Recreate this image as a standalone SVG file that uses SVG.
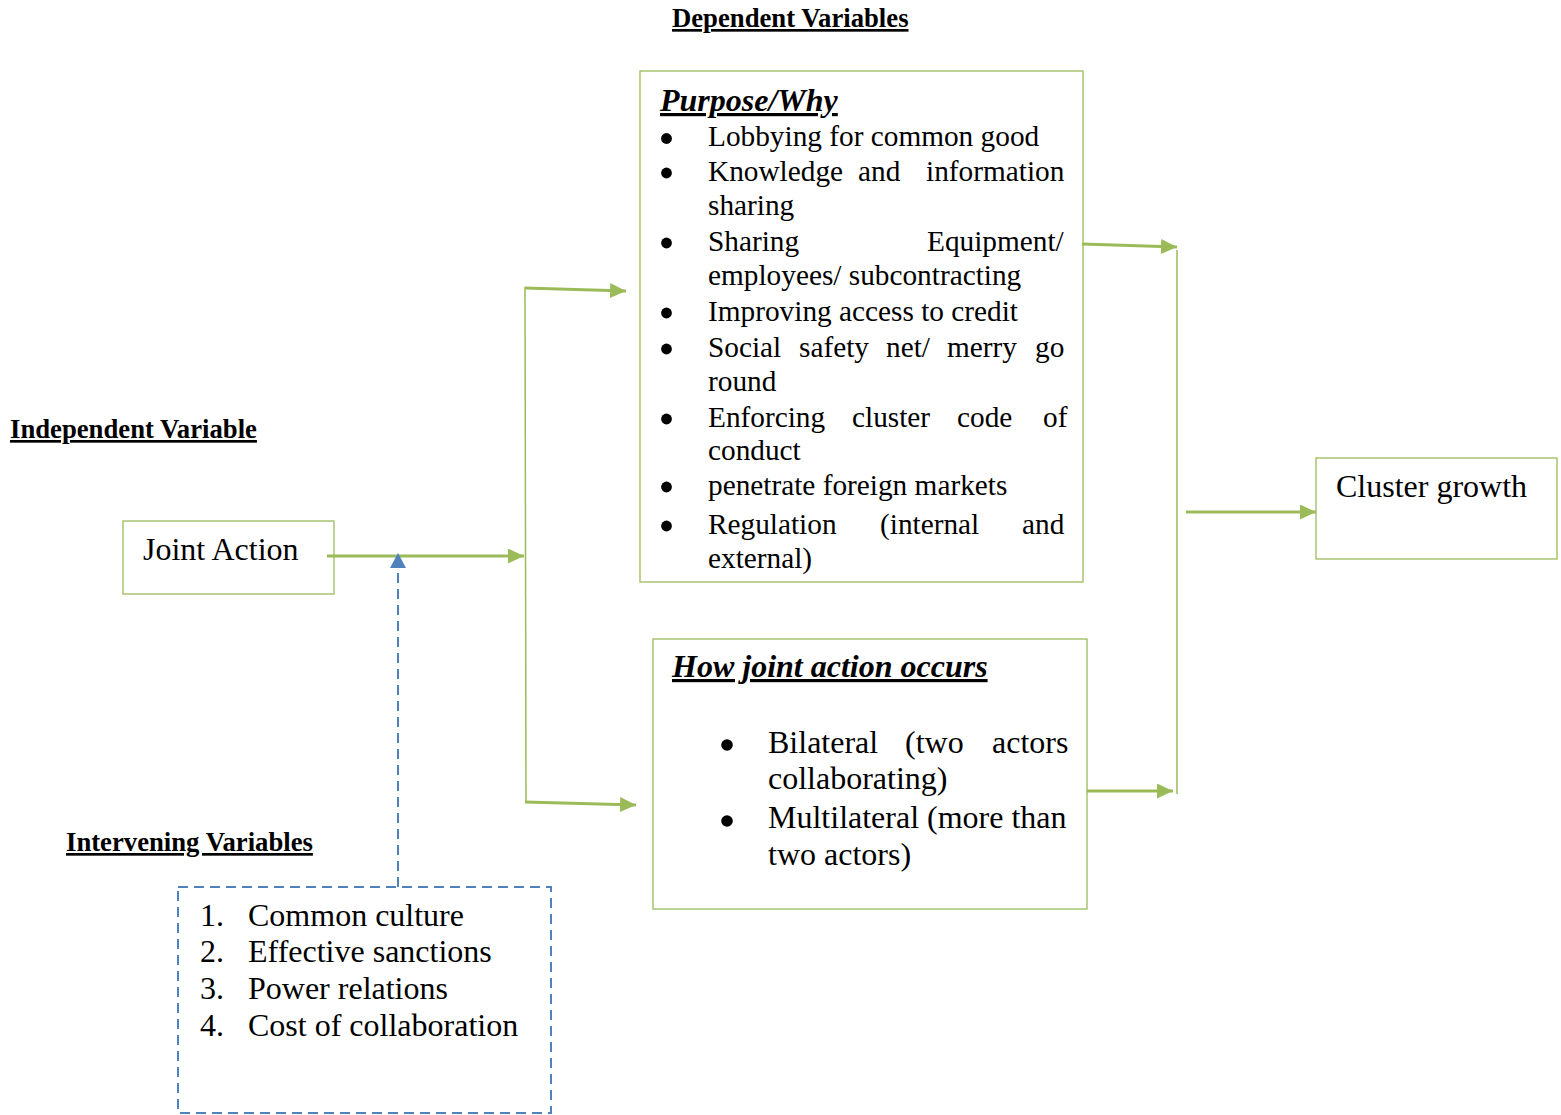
<svg xmlns="http://www.w3.org/2000/svg" width="1561" height="1115" viewBox="0 0 1561 1115">
  <style>
    text { font-family: "Liberation Serif", "Times New Roman", serif; fill: #000; }
    .hdr { font-size: 26.7px; font-weight: bold; text-decoration: underline; }
    .ttl { font-size: 32px; font-weight: bold; font-style: italic; text-decoration: underline; }
    .body { font-size: 29.3px; }
    .big { font-size: 32px; }
    .dot { fill: #000; }
    .box { fill: #fff; stroke: #9BBB59; stroke-width: 1.3; }
    .dbox { fill: none; stroke: #4F81BD; stroke-width: 2; stroke-dasharray: 10 6; }
    .flow { fill: none; stroke: #9BBB59; stroke-width: 3; }
    .rail { fill: none; stroke: #9BBB59; stroke-width: 1.5; }
    .mod { fill: none; stroke: #4F81BD; stroke-width: 2; stroke-dasharray: 10 6; }
  </style>
  <defs>
    <marker id="ga" viewBox="0 0 16 15" refX="16" refY="7.5" markerWidth="16" markerHeight="15" markerUnits="userSpaceOnUse" orient="auto">
      <path d="M0,0 L16,7.5 L0,15 Z" fill="#9BBB59"/>
    </marker>
    <marker id="ba" viewBox="0 0 15 16" refX="15" refY="8" markerWidth="15" markerHeight="16" markerUnits="userSpaceOnUse" orient="auto">
      <path d="M0,0 L15,8 L0,16 Z" fill="#4F81BD"/>
    </marker>
  </defs>

  <!-- section headings -->
  <text class="hdr" x="672" y="27">Dependent Variables</text>
  <text class="hdr" x="10" y="438">Independent Variable</text>
  <text class="hdr" x="66" y="851">Intervening Variables</text>

  <!-- independent variable -->
  <g id="joint-action">
    <rect class="box" x="123" y="521" width="211" height="73"/>
    <text class="big" x="143" y="560">Joint Action</text>
  </g>

  <!-- purpose of joint action -->
  <g id="purpose">
    <rect class="box" x="640" y="71" width="443" height="511"/>
    <text class="ttl" x="660" y="111">Purpose/Why</text>
    <g class="dot">
      <circle cx="666.5" cy="138.5" r="5.4"/>
      <circle cx="666.5" cy="173" r="5.4"/>
      <circle cx="666.5" cy="243" r="5.4"/>
      <circle cx="666.5" cy="313" r="5.4"/>
      <circle cx="666.5" cy="349" r="5.4"/>
      <circle cx="666.5" cy="419" r="5.4"/>
      <circle cx="666.5" cy="487" r="5.4"/>
      <circle cx="666.5" cy="526" r="5.4"/>
    </g>
    <g class="body">
      <text x="708" y="146">Lobbying for common good</text>
      <text y="181"><tspan x="708">Knowledge</tspan><tspan x="858">and</tspan><tspan x="926">information</tspan></text>
      <text x="708" y="215">sharing</text>
      <text y="251"><tspan x="708">Sharing</tspan><tspan x="927">Equipment/</tspan></text>
      <text x="708" y="285">employees/ subcontracting</text>
      <text x="708" y="321">Improving access to credit</text>
      <text y="357"><tspan x="708">Social</tspan><tspan x="799">safety</tspan><tspan x="886">net/</tspan><tspan x="947">merry</tspan><tspan x="1035">go</tspan></text>
      <text x="708" y="391">round</text>
      <text y="427"><tspan x="708">Enforcing</tspan><tspan x="852">cluster</tspan><tspan x="957">code</tspan><tspan x="1043">of</tspan></text>
      <text x="708" y="460">conduct</text>
      <text x="708" y="495">penetrate foreign markets</text>
      <text y="534"><tspan x="708">Regulation</tspan><tspan x="880">(internal</tspan><tspan x="1022">and</tspan></text>
      <text x="708" y="568">external)</text>
    </g>
  </g>

  <!-- how joint action occurs -->
  <g id="how">
    <rect class="box" x="653" y="639" width="434" height="270"/>
    <text class="ttl" x="672" y="677">How joint action occurs</text>
    <g class="dot">
      <circle cx="727" cy="745" r="5.8"/>
      <circle cx="727" cy="821" r="5.8"/>
    </g>
    <g class="big">
      <text y="753"><tspan x="768">Bilateral</tspan><tspan x="905">(two</tspan><tspan x="992">actors</tspan></text>
      <text x="768" y="789">collaborating)</text>
      <text x="768" y="828">Multilateral (more than</text>
      <text x="768" y="865">two actors)</text>
    </g>
  </g>

  <!-- outcome -->
  <g id="cluster-growth">
    <rect class="box" x="1316" y="458" width="241" height="101"/>
    <text class="big" x="1336" y="497">Cluster growth</text>
  </g>

  <!-- intervening variables -->
  <g id="intervening">
    <rect class="dbox" x="178" y="887" width="373" height="226"/>
    <g class="big">
      <text x="200" y="926">1.</text><text x="248" y="926">Common culture</text>
      <text x="200" y="962">2.</text><text x="248" y="962">Effective sanctions</text>
      <text x="200" y="999">3.</text><text x="248" y="999">Power relations</text>
      <text x="200" y="1036">4.</text><text x="248" y="1036">Cost of collaboration</text>
    </g>
  </g>

  <!-- connectors -->
  <g id="connectors">
    <line class="flow" x1="327" y1="556" x2="524" y2="556" marker-end="url(#ga)"/>
    <line class="rail" x1="525" y1="287" x2="526" y2="803"/>
    <line class="flow" x1="525" y1="288" x2="626" y2="291" marker-end="url(#ga)"/>
    <line class="flow" x1="525" y1="802" x2="636" y2="805" marker-end="url(#ga)"/>
    <line class="flow" x1="1082" y1="244" x2="1177" y2="247" marker-end="url(#ga)"/>
    <line class="flow" x1="1087" y1="791" x2="1173" y2="791" marker-end="url(#ga)"/>
    <line class="rail" x1="1177" y1="250" x2="1177" y2="794"/>
    <line class="flow" x1="1186" y1="512" x2="1316" y2="512" marker-end="url(#ga)"/>
    <line class="mod" x1="398" y1="887" x2="398" y2="553" marker-end="url(#ba)"/>
  </g>
</svg>
